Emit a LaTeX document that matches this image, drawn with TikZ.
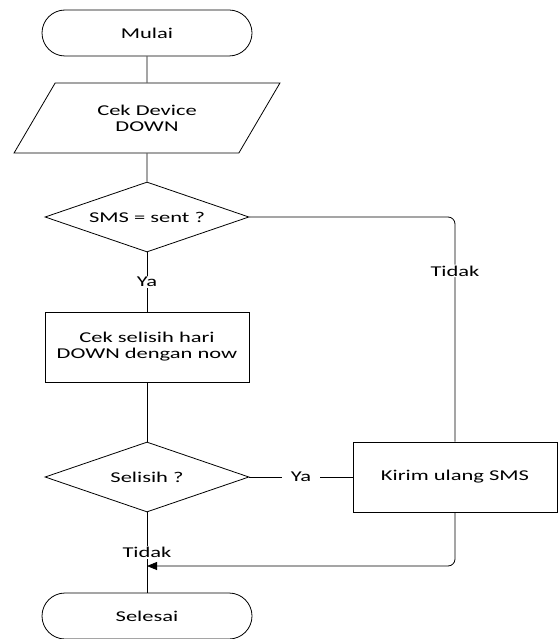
\documentclass[tikz,border=0pt]{standalone}
\usepackage{fontspec}
\setmainfont{Carlito}[FakeStretch=1.5]
\usetikzlibrary{shapes.geometric,shapes.misc,arrows.meta}
\begin{document}
\begin{tikzpicture}[x=1pt,y=-1pt,
  font=\fontsize{15}{16}\selectfont,
  line width=0.8pt,
  base/.style={draw, line width=0.8pt, align=center, inner sep=0pt},
  terminal/.style={base, rounded rectangle, minimum width=210pt, minimum height=46pt},
  io/.style={base, trapezium, trapezium left angle=50, trapezium right angle=130,
    trapezium stretches=true, minimum width=266pt, minimum height=70pt},
  decision/.style={base, diamond, shape aspect=2.914, minimum width=204pt, minimum height=70pt},
  process/.style={base, rectangle, minimum width=204pt, minimum height=70pt},
  tag/.style={fill=white, inner xsep=9pt, inner ysep=2pt},
  vtag/.style={fill=white, inner xsep=2pt, inner ysep=1pt},
  arrowtip/.style={-{Triangle[length=10pt,width=8pt]}}]

\useasboundingbox (0,0) rectangle (558,639);

% shapes of the flow
\node[terminal] (mulai) at (147,33) {Mulai};
\node[io] (cek) at (147,118) {Cek Device\\DOWN};
\node[decision] (sms) at (147,217) {SMS = sent ?};
\node[process] (hari) at (147,347) {Cek selisih hari\\DOWN dengan now};
\node[decision] (selisih) at (147,477) {Selisih ?};
\node[process] (kirim) at (455,477) {Kirim ulang SMS};
\node[terminal] (selesai) at (147,616) {Selesai};
\coordinate (merge) at (147,566);

% connectors
\draw (mulai) -- (cek);
\draw (cek) -- (sms);
\draw (sms) -- node[vtag] {Ya} (hari);
\draw (hari) -- (selisih);
\draw (selisih) -- node[tag] {Ya} (kirim);
\draw[rounded corners=7pt] (sms.east) -| node[vtag, pos=0.62] {Tidak} (kirim.north);
\draw (selisih) -- node[vtag, pos=0.5] {Tidak} (selesai);
\draw[arrowtip, rounded corners=7pt] (kirim.south) |- (merge);
\end{tikzpicture}
\end{document}
